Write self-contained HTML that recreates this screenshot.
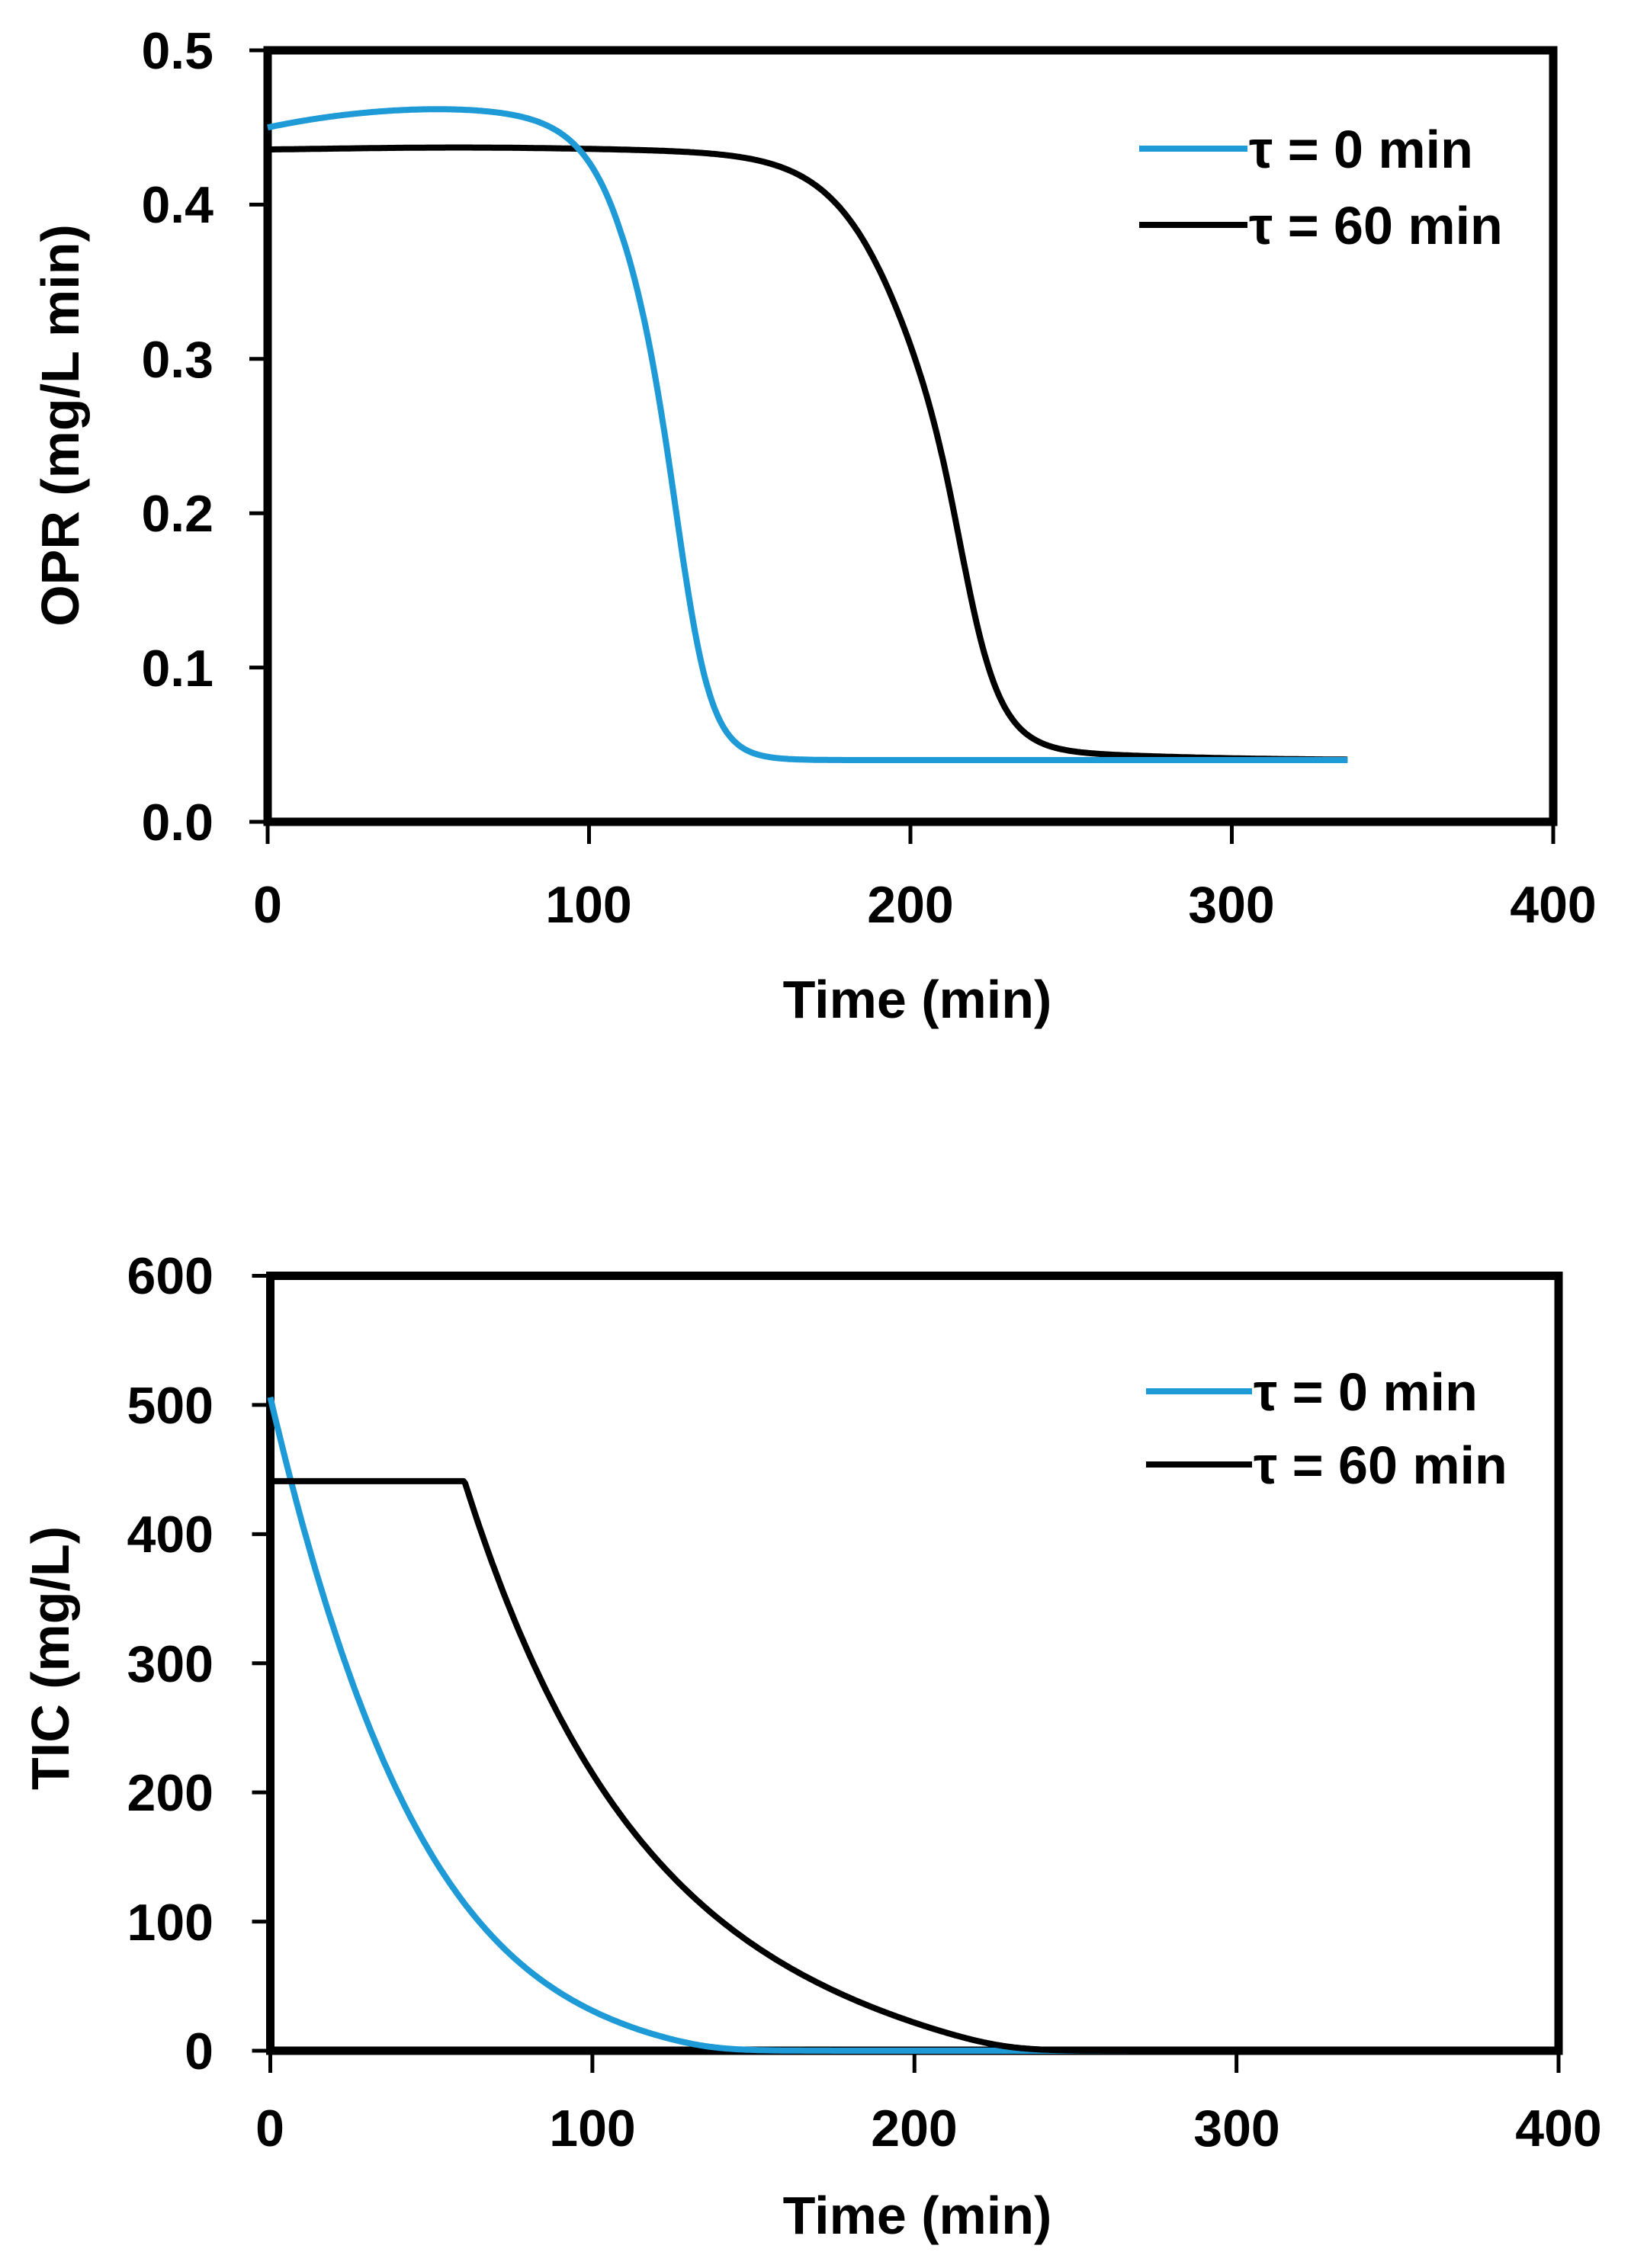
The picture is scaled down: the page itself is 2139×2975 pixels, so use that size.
<!DOCTYPE html>
<html><head><meta charset="utf-8">
<style>
html,body{margin:0;padding:0;background:#fff;}
svg{display:block;}
text{font-family:"Liberation Sans",sans-serif;font-weight:bold;fill:#000;}
</style></head>
<body>
<svg id="s" width="2139" height="2975" viewBox="0 0 2139 2975" xmlns="http://www.w3.org/2000/svg">
<rect width="2139" height="2975" fill="#fff"/>
<g id="g1"></g>
<g id="g2"></g>
<g font-size="68" text-anchor="end">
<text x="280" y="90">0.5</text>
<text x="280" y="292">0.4</text>
<text x="280" y="495">0.3</text>
<text x="280" y="697">0.2</text>
<text x="280" y="900">0.1</text>
<text x="280" y="1102">0.0</text>
</g>
<g font-size="68" text-anchor="middle">
<text x="351" y="1210">0</text>
<text x="772" y="1210">100</text>
<text x="1194" y="1210">200</text>
<text x="1615" y="1210">300</text>
<text x="2037" y="1210">400</text>
<text x="1203" y="1335" font-size="70">Time (min)</text>
</g>
<text font-size="70" text-anchor="middle" transform="translate(103,558) rotate(-90)">OPR (mg/L min)</text>
<g font-size="70">
<text x="1638" y="220">τ = 0 min</text>
<text x="1638" y="320">τ = 60 min</text>
</g>
<line x1="1494" y1="195" x2="1636" y2="195" stroke="#1e9ad6" stroke-width="8"/>
<line x1="1494" y1="295" x2="1636" y2="295" stroke="#000" stroke-width="8"/>
<g font-size="68" text-anchor="end">
<text x="280" y="2714">0</text>
<text x="280" y="2545">100</text>
<text x="280" y="2375">200</text>
<text x="280" y="2206">300</text>
<text x="280" y="2036">400</text>
<text x="280" y="1867">500</text>
<text x="280" y="1697">600</text>
</g>
<g font-size="68" text-anchor="middle">
<text x="354" y="2815">0</text>
<text x="777" y="2815">100</text>
<text x="1199" y="2815">200</text>
<text x="1622" y="2815">300</text>
<text x="2044" y="2815">400</text>
<text x="1203" y="2930" font-size="70">Time (min)</text>
</g>
<text font-size="70" text-anchor="middle" transform="translate(90,2175) rotate(-90)">TIC (mg/L)</text>
<g font-size="70">
<text x="1644" y="1850">τ = 0 min</text>
<text x="1644" y="1946">τ = 60 min</text>
</g>
<line x1="1503" y1="1825" x2="1642" y2="1825" stroke="#1e9ad6" stroke-width="8"/>
<line x1="1503" y1="1921" x2="1642" y2="1921" stroke="#000" stroke-width="8"/>
</svg>
<script>
var NS="http://www.w3.org/2000/svg";
function el(g,tag,attrs){var e=document.createElementNS(NS,tag);for(var k in attrs)e.setAttribute(k,attrs[k]);g.appendChild(e);return e;}
function axes(g,L,R,T,B,yt,xt){
  for(var i=0;i<yt.length;i++) el(g,"line",{x1:L-24,x2:L,y1:yt[i],y2:yt[i],stroke:"#000","stroke-width":5});
  for(var i=0;i<xt.length;i++) el(g,"line",{x1:xt[i],x2:xt[i],y1:B,y2:B+29,stroke:"#000","stroke-width":5});
  el(g,"rect",{x:L,y:T,width:R-L,height:B-T,fill:"none",stroke:"#000","stroke-width":11});
}
function path(g,f,t0,t1,X,Y,col){
  var d="";for(var t=t0;t<=t1+1e-9;t+=0.5){d+=(d?" L":"M")+X(t).toFixed(1)+","+Y(f(t)).toFixed(1);}
  el(g,"path",{d:d,fill:"none",stroke:col,"stroke-width":8,"stroke-linejoin":"round","stroke-linecap":"butt"});
}
function logi(t,c,sl,sr){var w=sr+(sl-sr)/(1+Math.exp((t-c)/6));return 1/(1+Math.exp((t-c)/w));}
function sp(v,w){return v/w>30?v:w*Math.log(1+Math.exp(v/w));}
// Top
var g1=document.getElementById("g1");
var L1=351,R1=2037,T1=66,B1=1078;
function X1(t){return L1+t*(R1-L1)/400;} function Y1(v){return B1-v*(B1-T1)/0.5;}
var yt=[],xt=[];for(var i=0;i<=5;i++)yt.push(Y1(i*0.1));for(var i=0;i<=4;i++)xt.push(X1(i*100));
axes(g1,L1,R1,T1,B1,yt,xt);
function blue1(t){var P=t<110?0.45+0.012*(1-Math.pow((t-55)/55,2)):0.45;var g=logi(t,124,9,6);return 0.04+(P-0.04)*g;}
function black1(t){var P=0.435+0.002*Math.exp(-Math.pow((t-60)/60,2));var g=logi(t,209.5,14,7.7);
  var B=0.04+0.006/(1+Math.exp((t-265)/25));return B+(P-B)*g;}
path(g1,black1,0,336,X1,Y1,"#000");
path(g1,blue1,0,336,X1,Y1,"#1e9ad6");
// Bottom
var g2=document.getElementById("g2");
var L2=354.5,R2=2044,T2=1673.5,B2=2690;
function X2(t){return L2+t*(R2-L2)/400;} function Y2(v){return B2-v*(B2-T2)/600;}
yt=[];xt=[];for(var i=0;i<=6;i++)yt.push(Y2(i*100));for(var i=0;i<=4;i++)xt.push(X2(i*100));
axes(g2,L2,R2,T2,B2,yt,xt);
function blue2(t){var v=506*Math.exp(-0.021*t-0.00006*t*t);var e=506*Math.exp(-0.021*140-0.00006*19600);return sp(v-e*Math.pow(t/140,3),3);}
function black2(t){if(t<=60.3)return 441;var s=t-60.3;var e=441*Math.exp(-0.018*170);return Math.max(0,sp(441*Math.exp(-0.018*s)-e*Math.pow(s/170,2),4)-0);}
path(g2,blue2,0,400,X2,Y2,"#1e9ad6");
path(g2,black2,0,400,X2,Y2,"#000");
</script>
</body></html>
